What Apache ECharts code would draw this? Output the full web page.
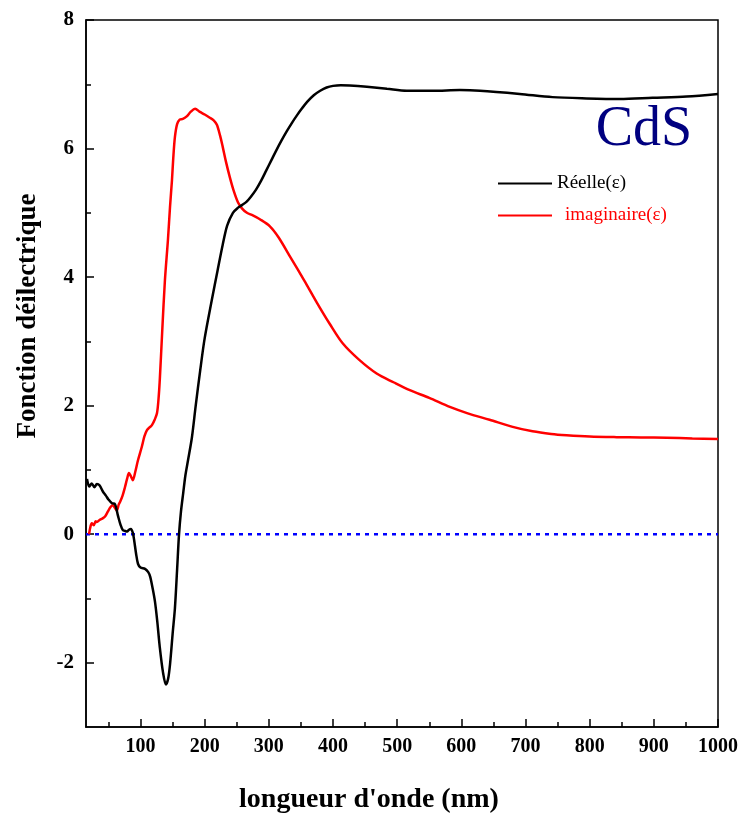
<!DOCTYPE html>
<html>
<head>
<meta charset="utf-8">
<script src="https://cdn.jsdelivr.net/npm/echarts@6/dist/echarts.min.js"></script>
<style>
  html, body { margin: 0; padding: 0; background: #fff; }
  #chart { width: 742px; height: 814px; }
</style>
</head>
<body>
<div id="chart"></div>
<script>
// Wavelength grid (nm) and real part of the dielectric function of CdS
const reelleNm = [16.6, 20, 24, 28, 32, 36, 41.5, 46, 50, 55.5, 60, 65, 69, 72.6, 76, 79, 82, 85, 88, 90, 93, 96, 100, 107, 112, 115, 119, 122.5, 126, 130, 135, 139.6, 143, 146, 150, 153.6, 157, 160, 163, 166.5, 170, 174, 180, 186, 193, 200, 211, 220, 228, 235, 244, 252, 258, 265, 272, 280, 288, 296, 304, 312, 320, 328, 336, 344, 352, 360, 370, 380, 390, 400, 412, 426, 452.7, 484, 515, 555.5, 597.6, 629, 691, 742, 795, 847, 898, 951, 1000];
const reelleVal = [0.86, 0.74, 0.79, 0.73, 0.78, 0.76, 0.66, 0.6, 0.54, 0.48, 0.47, 0.28, 0.14, 0.06, 0.05, 0.04, 0.07, 0.08, 0.02, -0.09, -0.3, -0.46, -0.52, -0.54, -0.59, -0.66, -0.85, -1.05, -1.35, -1.76, -2.15, -2.34, -2.25, -2.02, -1.55, -1.15, -0.55, 0.0, 0.35, 0.64, 0.92, 1.15, 1.5, 2.0, 2.55, 3.05, 3.64, 4.1, 4.5, 4.8, 5.0, 5.08, 5.12, 5.17, 5.25, 5.36, 5.5, 5.66, 5.82, 5.98, 6.13, 6.27, 6.4, 6.52, 6.63, 6.73, 6.83, 6.9, 6.95, 6.975, 6.985, 6.98, 6.96, 6.93, 6.9, 6.9, 6.91, 6.9, 6.85, 6.8, 6.78, 6.77, 6.79, 6.81, 6.85];

// Imaginary part of the dielectric function
const imagNm = [19.7, 22, 24, 27, 30, 32, 36, 41.5, 45, 49, 53, 57, 60, 63, 66, 68, 72, 75.7, 79, 82, 85, 88, 92, 96, 102, 106, 110, 114, 118, 122, 125.6, 128, 130, 134, 138, 142.7, 146, 149, 151, 153.6, 157, 161, 166, 172, 178, 185, 192.6, 200, 208, 214, 219, 224, 228, 233, 239, 245, 252, 258, 265.8, 275, 286, 301.6, 315, 333, 355, 375, 395, 415, 440, 468, 495, 519.7, 550, 582, 610, 644, 680, 711, 740, 764, 800, 842, 880, 920, 960, 1000];
const imagVal = [0.0, 0.12, 0.17, 0.14, 0.2, 0.19, 0.22, 0.25, 0.28, 0.35, 0.42, 0.45, 0.41, 0.37, 0.46, 0.5, 0.6, 0.73, 0.86, 0.95, 0.9, 0.84, 0.98, 1.15, 1.36, 1.52, 1.62, 1.66, 1.7, 1.78, 1.88, 2.1, 2.4, 3.2, 3.95, 4.58, 5.1, 5.51, 5.85, 6.18, 6.38, 6.45, 6.46, 6.5, 6.57, 6.62, 6.57, 6.53, 6.48, 6.44, 6.37, 6.2, 6.03, 5.8, 5.56, 5.35, 5.16, 5.07, 5.0, 4.96, 4.9, 4.79, 4.62, 4.32, 3.95, 3.6, 3.27, 2.97, 2.72, 2.5, 2.36, 2.24, 2.12, 1.98, 1.88, 1.78, 1.67, 1.6, 1.56, 1.54, 1.52, 1.51, 1.505, 1.5, 1.49, 1.48];

// Axis ranges and tick positions
const xMin = 15, xMax = 1000;
const yMin = -3, yMax = 8;
const xMajor = [100, 200, 300, 400, 500, 600, 700, 800, 900, 1000];
const xMinor = [50, 150, 250, 350, 450, 550, 650, 750, 850, 950];
const yMajor = [-2, 0, 2, 4, 6, 8];
const yMinor = [-1, 1, 3, 5, 7];

const nameReelle = 'Réelle(ε)';
const nameImag = 'imaginaire(ε)';

const serif = '"Liberation Serif", "Times New Roman", serif';

function pairs(xs, ys) { return xs.map((x, i) => [x, ys[i]]); }

const chart = echarts.init(document.getElementById('chart'), null, { renderer: 'canvas' });

const baseX = { type: 'value', min: xMin, max: xMax, splitLine: { show: false } };
const baseY = { type: 'value', min: yMin, max: yMax, splitLine: { show: false } };
const plain = v => String(v);

chart.setOption({
  animation: false,
  backgroundColor: '#fff',
  grid: {
    left: 86, right: 24, top: 20, bottom: 87,
    show: true, borderColor: '#000', borderWidth: 1.5, backgroundColor: 'transparent'
  },
  xAxis: [
    Object.assign({}, baseX, {
      position: 'bottom',
      axisLine: { show: true, onZero: false, lineStyle: { color: '#000', width: 1.5 } },
      axisTick: { show: true, inside: true, length: 8, customValues: xMajor, lineStyle: { color: '#000', width: 1.5 } },
      axisLabel: {
        show: true, customValues: xMajor, margin: 10, formatter: plain,
        fontFamily: serif, fontWeight: 'bold', fontSize: 20, color: '#000'
      }
    }),
    Object.assign({}, baseX, {
      position: 'bottom',
      axisLine: { show: false, onZero: false },
      axisTick: { show: true, inside: true, length: 5, customValues: xMinor, lineStyle: { color: '#000', width: 1.5 } },
      axisLabel: { show: false }
    })
  ],
  yAxis: [
    Object.assign({}, baseY, {
      position: 'left',
      axisLine: { show: true, onZero: false, lineStyle: { color: '#000', width: 1.5 } },
      axisTick: { show: true, inside: true, length: 8, customValues: yMajor, lineStyle: { color: '#000', width: 1.5 } },
      axisLabel: {
        show: true, customValues: yMajor, margin: 12, formatter: plain,
        fontFamily: serif, fontWeight: 'bold', fontSize: 21, color: '#000'
      }
    }),
    Object.assign({}, baseY, {
      position: 'left',
      axisLine: { show: false, onZero: false },
      axisTick: { show: true, inside: true, length: 5, customValues: yMinor, lineStyle: { color: '#000', width: 1.5 } },
      axisLabel: { show: false }
    })
  ],
  legend: {
    orient: 'vertical',
    left: 493, top: 169,
    icon: 'rect',
    itemWidth: 54, itemHeight: 2,
    itemGap: 13,
    formatter: n => (n === nameImag ? '{gap|}' + n : n),
    textStyle: {
      fontFamily: serif, fontSize: 19, lineHeight: 18,
      rich: { gap: { width: 8 } }
    },
    data: [
      { name: nameReelle, textStyle: { color: '#000' } },
      { name: nameImag, textStyle: { color: '#ff0000' } }
    ]
  },
  graphic: [
    {
      type: 'text', x: 644, y: 130,
      style: {
        text: 'CdS', align: 'center', verticalAlign: 'middle',
        font: 'normal 56px ' + serif, fill: '#000080'
      }
    },
    {
      type: 'text',
      x: 28, y: 316, rotation: Math.PI / 2,
      style: {
        text: 'Fonction déilectrique', align: 'center', verticalAlign: 'middle',
        font: 'bold 27px ' + serif, fill: '#000'
      }
    },
    {
      type: 'text',
      x: 369, y: 800,
      style: {
        text: "longueur d'onde (nm)", align: 'center', verticalAlign: 'middle',
        font: 'bold 28px ' + serif, fill: '#000'
      }
    }
  ],
  series: [
    {
      name: 'zero',
      type: 'line',
      xAxisIndex: 0, yAxisIndex: 0,
      data: [[xMin, 0], [xMax, 0]],
      symbol: 'none',
      lineStyle: { color: '#0000ff', width: 2.5, type: [4, 5] },
      silent: true, z: 1
    },
    {
      name: nameReelle,
      type: 'line',
      xAxisIndex: 0, yAxisIndex: 0,
      data: pairs(reelleNm, reelleVal),
      symbol: 'none', smooth: 0.3,
      color: '#000',
      lineStyle: { color: '#000', width: 2.5 },
      z: 3
    },
    {
      name: nameImag,
      type: 'line',
      xAxisIndex: 0, yAxisIndex: 0,
      data: pairs(imagNm, imagVal),
      symbol: 'none', smooth: 0.3,
      color: '#ff0000',
      lineStyle: { color: '#ff0000', width: 2.5 },
      z: 2
    }
  ]
});
</script>
</body>
</html>
